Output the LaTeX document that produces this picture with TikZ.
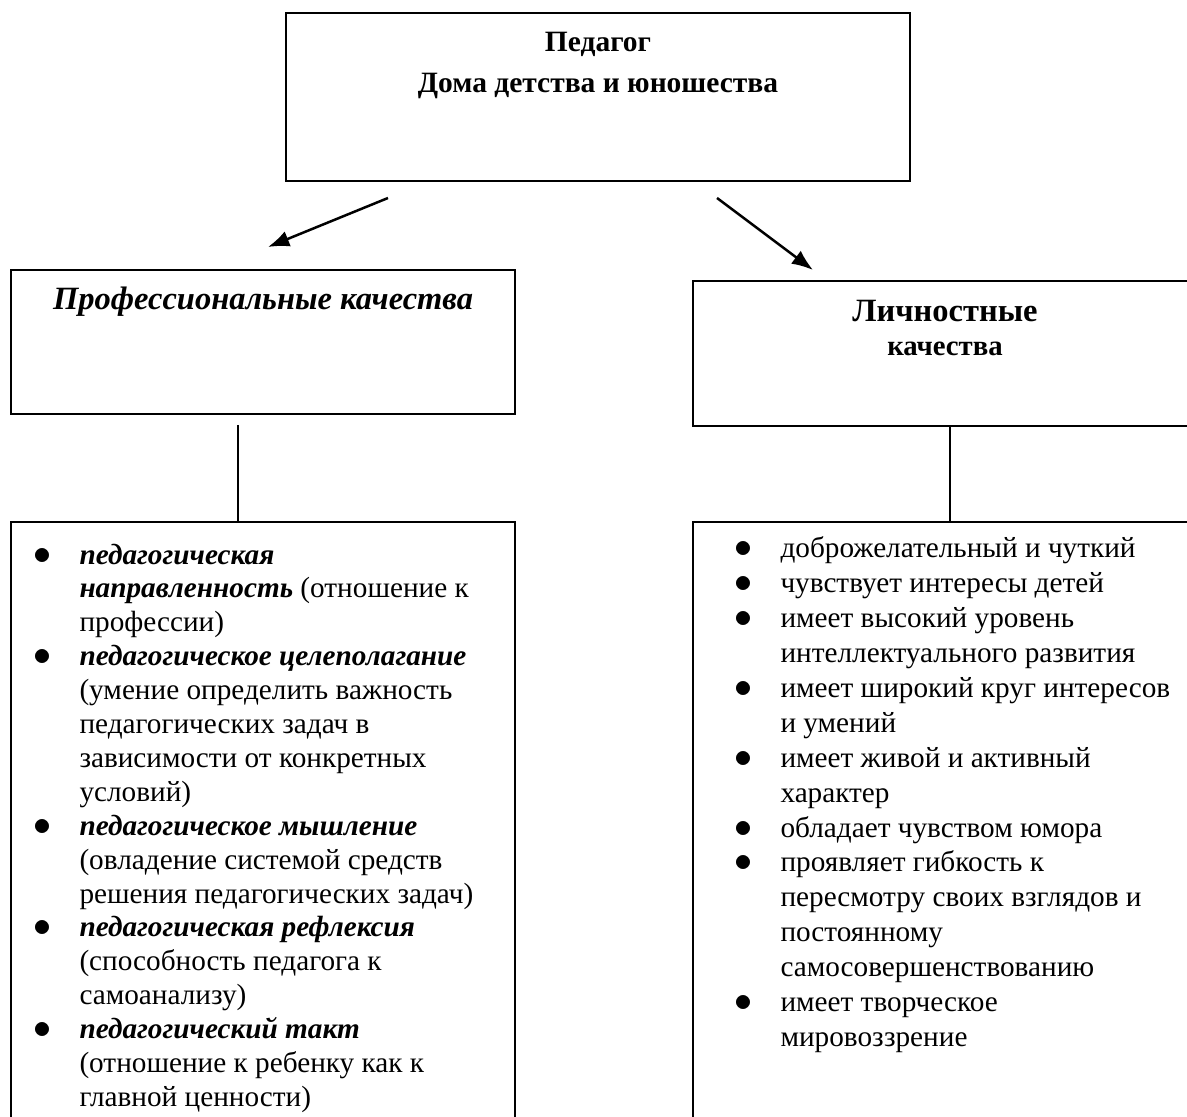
\documentclass[tikz,border=0pt]{standalone}
\usepackage{fontspec}
\setmainfont{Liberation Serif}
\usetikzlibrary{arrows.meta}

% bullet hanging left of the item text
\newcommand{\bul}{\llap{{\fontsize{14pt}{14pt}\selectfont$\bullet$}\hspace{11.3pt}}}
\newcommand{\term}[1]{\textbf{\textit{#1}}}

\begin{document}
\begin{tikzpicture}[
        x=0.4pt, y=-0.4pt,
        box/.style={draw, line width=0.8pt, inner sep=0pt},
        title text/.style={align=center, anchor=base, inner sep=0pt},
        list text/.style={align=left, anchor=base west, inner sep=0pt},
        link/.style={line width=0.8pt},
        arrow/.style={line width=1pt, -{Latex[length=8.5pt, width=6.5pt]}}
    ]

    % Picture frame (the right and bottom boxes run off the page)
    \path[use as bounding box, clip] (0,0) rectangle (1187,1117);

    % Draw the boxes
    \node[box, minimum width=249.6pt, minimum height=67.2pt] (ped) at (598,97) {};
    \node[box, minimum width=201.6pt, minimum height=57.6pt] (prof) at (263,342) {};
    \node[box, minimum width=201.6pt, minimum height=58pt] (pers) at (945,353.5) {};
    \node[box, minimum width=201.6pt, minimum height=247.2pt] (proflist) at (263,831) {};
    \node[box, minimum width=201.6pt, minimum height=247.2pt] (perslist) at (945,831) {};

    % Titles (anchored at the baseline of their last line)
    \node[title text, font=\fontsize{11.8pt}{16.4pt}\selectfont\bfseries] (pedtitle) at (598,93)
        {Педагог\\Дома детства и юношества};
    \node[title text, font=\fontsize{13pt}{16pt}\selectfont\bfseries\itshape] (proftitle) at (263,310)
        {Профессиональные качества};
    \node[title text, font=\fontsize{13pt}{13.6pt}\selectfont\bfseries] (perstitle) at (945,356)
        {Личностные\\{\fontsize{11.5pt}{13.6pt}\selectfont качества}};

    % Lists of qualities
    \node[list text, font=\fontsize{11.7pt}{13.56pt}\selectfont] (proftext) at (79,1106.5) {%
        \bul\term{педагогическая}\\
        \term{направленность} (отношение к\\
        профессии)\\
        \bul\term{педагогическое целеполагание}\\
        (умение определить важность\\
        педагогических задач в\\
        зависимости от конкретных\\
        условий)\\
        \bul\term{педагогическое мышление}\\
        (овладение системой средств\\
        решения педагогических задач)\\
        \bul\term{педагогическая рефлексия}\\
        (способность педагога к\\
        самоанализу)\\
        \bul\term{педагогический такт}\\
        (отношение к ребенку как к\\
        главной ценности)};

    \node[list text, font=\fontsize{11.7pt}{13.96pt}\selectfont] (perstext) at (780,1046.5) {%
        \bul доброжелательный и чуткий\\
        \bul чувствует интересы детей\\
        \bul имеет высокий уровень\\
        интеллектуального развития\\
        \bul имеет широкий круг интересов\\
        и умений\\
        \bul имеет живой и активный\\
        характер\\
        \bul обладает чувством юмора\\
        \bul проявляет гибкость к\\
        пересмотру своих взглядов и\\
        постоянному\\
        самосовершенствованию\\
        \bul имеет творческое\\
        мировоззрение};

    % Arrow ends
    \coordinate (profarrow) at (388,198);
    \coordinate (profhead) at (268,247);
    \coordinate (persarrow) at (717,198);
    \coordinate (pershead) at (813,270);
    \coordinate (proflink) at (238,425);
    \coordinate (perslink) at (950,426);

    % Draw the connecting lines
    \draw[arrow] (profarrow) -- (profhead);
    \draw[arrow] (persarrow) -- (pershead);
    \draw[link] (proflink) -- (proflink |- proflist.north);
    \draw[link] (perslink) -- (perslink |- perslist.north);

\end{tikzpicture}
\end{document}
